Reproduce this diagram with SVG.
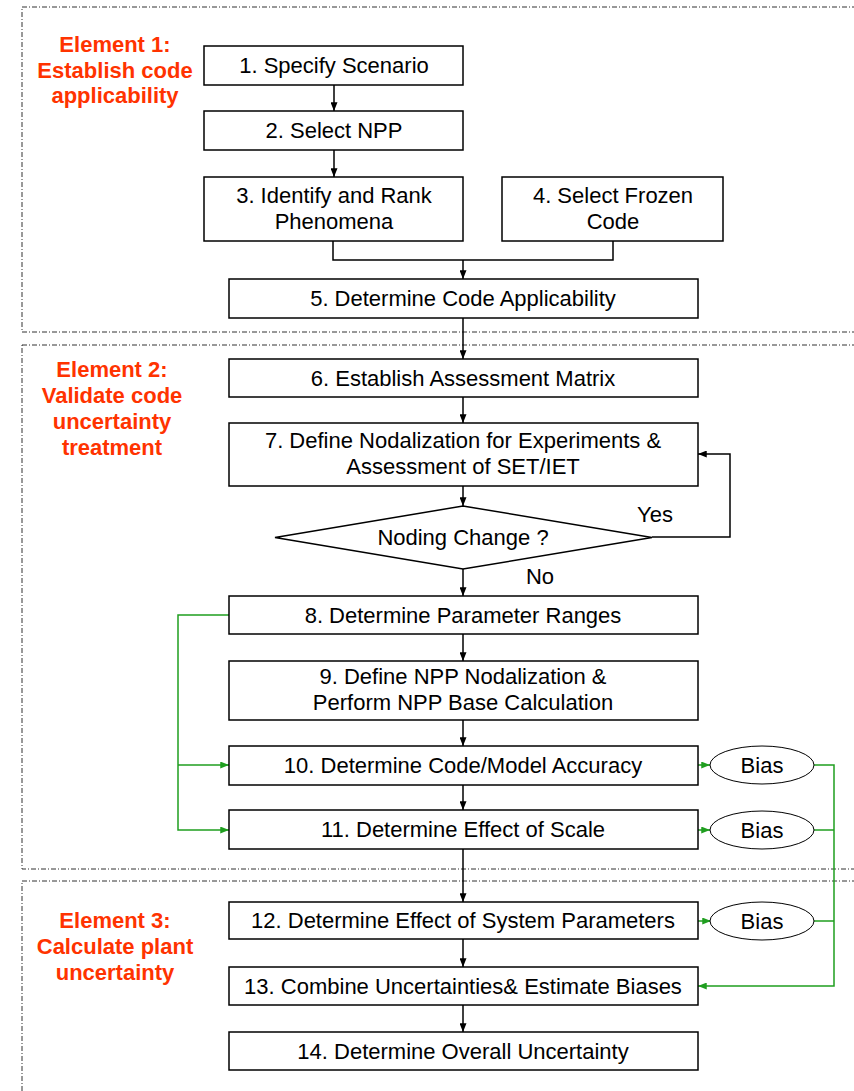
<svg xmlns="http://www.w3.org/2000/svg" width="854" height="1091" viewBox="0 0 854 1091">
<defs>
<style>
.box{fill:#fff;stroke:#000;stroke-width:1.5}
.sec{fill:none;stroke:#333;stroke-width:1;stroke-dasharray:5,2,1,2}
.t{font-family:"Liberation Sans",Arial,sans-serif;font-size:22px;fill:#000;text-anchor:middle}
.el{font-family:"Liberation Sans",Arial,sans-serif;font-size:22px;font-weight:bold;fill:#ff3300;text-anchor:middle}
.c{fill:none;stroke:#000;stroke-width:1.5}
.g{fill:none;stroke:#1f9e1f;stroke-width:1.5}
</style>
<marker id="ab" viewBox="0 0 10 8" markerWidth="9" markerHeight="7" refX="10" refY="4" orient="auto" markerUnits="userSpaceOnUse"><path d="M0,0 L10,4 L0,8 z" fill="#000"/></marker>
<marker id="ag" viewBox="0 0 10 8" markerWidth="9" markerHeight="7" refX="10" refY="4" orient="auto" markerUnits="userSpaceOnUse"><path d="M0,0 L10,4 L0,8 z" fill="#1f9e1f"/></marker>
</defs>
<rect width="854" height="1091" fill="#fff"/>

<g id="sections">
<rect class="sec" x="22" y="7" width="850" height="325"/>
<rect class="sec" x="22" y="345" width="850" height="524"/>
<rect class="sec" x="22" y="881" width="850" height="230"/>
<text class="el" x="115" y="52">Element 1:</text>
<text class="el" x="115" y="78">Establish code</text>
<text class="el" x="115" y="103">applicability</text>
<text class="el" x="112" y="377">Element 2:</text>
<text class="el" x="112" y="403">Validate code</text>
<text class="el" x="112" y="429">uncertainty</text>
<text class="el" x="112" y="455">treatment</text>
<text class="el" x="115" y="928">Element 3:</text>
<text class="el" x="115" y="954">Calculate plant</text>
<text class="el" x="115" y="980">uncertainty</text>
</g>

<g id="connectors">
<line class="c" x1="334" y1="85" x2="334" y2="111" marker-end="url(#ab)"/>
<line class="c" x1="334" y1="150" x2="334" y2="177" marker-end="url(#ab)"/>
<polyline class="c" points="333,241 333,260 613,260 613,241"/>
<line class="c" x1="463" y1="260" x2="463" y2="279" marker-end="url(#ab)"/>
<line class="c" x1="463" y1="318" x2="463" y2="359" marker-end="url(#ab)"/>
<line class="c" x1="463" y1="397" x2="463" y2="423" marker-end="url(#ab)"/>
<line class="c" x1="463" y1="486" x2="463" y2="506" marker-end="url(#ab)"/>
<polyline class="c" points="652,537 730,537 730,454 698,454" marker-end="url(#ab)"/>
<line class="c" x1="463" y1="569" x2="463" y2="596" marker-end="url(#ab)"/>
<line class="c" x1="463" y1="634" x2="463" y2="661" marker-end="url(#ab)"/>
<line class="c" x1="463" y1="720" x2="463" y2="746" marker-end="url(#ab)"/>
<line class="c" x1="463" y1="785" x2="463" y2="810" marker-end="url(#ab)"/>
<line class="c" x1="463" y1="849" x2="463" y2="902" marker-end="url(#ab)"/>
<line class="c" x1="463" y1="939" x2="463" y2="967" marker-end="url(#ab)"/>
<line class="c" x1="463" y1="1005" x2="463" y2="1032" marker-end="url(#ab)"/>
<polyline class="g" points="229,615 178,615 178,830 229,830" marker-end="url(#ag)"/>
<line class="g" x1="178" y1="765" x2="229" y2="765" marker-end="url(#ag)"/>
<line class="g" x1="698" y1="765" x2="710" y2="765" marker-end="url(#ag)"/>
<line class="g" x1="698" y1="830" x2="710" y2="830" marker-end="url(#ag)"/>
<line class="g" x1="698" y1="921" x2="711" y2="921" marker-end="url(#ag)"/>
<polyline class="g" points="814,765 834,765 834,986 698,986" marker-end="url(#ag)"/>
<line class="g" x1="814" y1="830" x2="834" y2="830"/>
<line class="g" x1="814" y1="921" x2="834" y2="921"/>
<text class="t" x="655" y="522">Yes</text>
<text class="t" x="540" y="584">No</text>
</g>

<g id="n1"><rect class="box" x="204" y="46" width="259" height="39"/><text class="t" x="334" y="73">1. Specify Scenario</text></g>
<g id="n2"><rect class="box" x="204" y="111" width="259" height="39"/><text class="t" x="334" y="138">2. Select NPP</text></g>
<g id="n3"><rect class="box" x="204" y="177" width="259" height="64"/><text class="t" x="334" y="203">3. Identify and Rank</text><text class="t" x="334" y="229">Phenomena</text></g>
<g id="n4"><rect class="box" x="502" y="177" width="221" height="64"/><text class="t" x="613" y="203">4. Select Frozen</text><text class="t" x="613" y="229">Code</text></g>
<g id="n5"><rect class="box" x="229" y="279" width="469" height="39"/><text class="t" x="463" y="306">5. Determine Code Applicability</text></g>
<g id="n6"><rect class="box" x="229" y="359" width="469" height="38"/><text class="t" x="463" y="386">6. Establish Assessment Matrix</text></g>
<g id="n7"><rect class="box" x="229" y="423" width="469" height="63"/><text class="t" x="463" y="448">7. Define Nodalization for Experiments &amp;</text><text class="t" x="463" y="474">Assessment of SET/IET</text></g>
<g id="d1"><polygon class="box" points="463,506 652,537.5 463,569 275,537.5"/><text class="t" x="463" y="545">Noding Change ?</text></g>
<g id="n8"><rect class="box" x="229" y="596" width="469" height="38"/><text class="t" x="463" y="623">8. Determine Parameter Ranges</text></g>
<g id="n9"><rect class="box" x="229" y="661" width="469" height="59"/><text class="t" x="463" y="684">9. Define NPP Nodalization &amp;</text><text class="t" x="463" y="710">Perform NPP Base Calculation</text></g>
<g id="n10"><rect class="box" x="229" y="746" width="469" height="39"/><text class="t" x="463" y="773">10. Determine Code/Model Accuracy</text></g>
<g id="n11"><rect class="box" x="229" y="810" width="469" height="39"/><text class="t" x="463" y="837">11. Determine Effect of Scale</text></g>
<g id="n12"><rect class="box" x="229" y="902" width="469" height="37"/><text class="t" x="463" y="928">12. Determine Effect of System Parameters</text></g>
<g id="n13"><rect class="box" x="229" y="967" width="469" height="38"/><text class="t" x="463" y="994">13. Combine Uncertainties&amp; Estimate Biases</text></g>
<g id="n14"><rect class="box" x="229" y="1032" width="469" height="38"/><text class="t" x="463" y="1059">14. Determine Overall Uncertainty</text></g>
<g id="b1"><ellipse fill="#fff" stroke="#000" stroke-width="1" cx="762" cy="765" rx="52" ry="19"/><text class="t" x="762" y="773">Bias</text></g>
<g id="b2"><ellipse fill="#fff" stroke="#000" stroke-width="1" cx="762" cy="830" rx="52" ry="19"/><text class="t" x="762" y="838">Bias</text></g>
<g id="b3"><ellipse fill="#fff" stroke="#000" stroke-width="1" cx="762" cy="921" rx="52" ry="19"/><text class="t" x="762" y="929">Bias</text></g>
</svg>
